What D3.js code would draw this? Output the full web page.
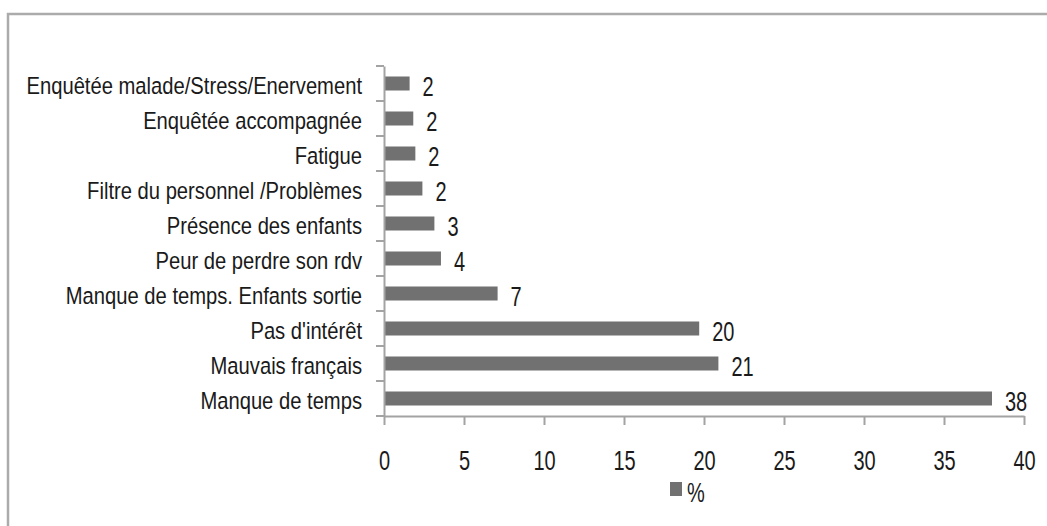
<!DOCTYPE html>
<html>
<head>
<meta charset="utf-8">
<script src="https://cdn.jsdelivr.net/npm/d3@7"></script>
<style>
  html, body { margin: 0; padding: 0; background: #fff; }
  svg { display: block; }
  text { font-family: "Liberation Sans", Arial, sans-serif; fill: #1a1a1a; }
</style>
</head>
<body>
<svg id="chart" width="1047" height="526"></svg>
<script>
// ---- data ----
const categories = [
  "Enquêtée malade/Stress/Enervement",
  "Enquêtée accompagnée",
  "Fatigue",
  "Filtre du personnel /Problèmes",
  "Présence des enfants ",
  "Peur de perdre son rdv",
  "Manque de temps. Enfants sortie",
  "Pas d'intérêt",
  "Mauvais français",
  "Manque de temps"
];
const values = [1.6, 1.83, 1.96, 2.4, 3.15, 3.56, 7.1, 19.7, 20.9, 38.0];
const xTicks = [0, 5, 10, 15, 20, 25, 30, 35, 40];
const seriesName = "%";

// ---- layout ----
const W = 1047, H = 526;
const plot = { left: 384, right: 1024, top: 66, bottom: 416 };
const SY_CAT = 1.22; // vertical stretch of category text
const SY_NUM = 1.38; // vertical stretch of numbers
const barColor = "#717171";
const axisColor = "#a3a3a3";

const svg = d3.select("#chart");

// outer frame (left + top border)
svg.append("path")
  .attr("d", `M8,${H} L8,14 L${W},14`)
  .attr("fill", "none")
  .attr("stroke", "#ababab")
  .attr("stroke-width", 2.5);

const x = d3.scaleLinear().domain([0, 40]).range([plot.left, plot.right]);
const y = d3.scaleBand().domain(categories).range([plot.top, plot.bottom]).paddingInner(0).paddingOuter(0);
const barH = y.bandwidth() * 0.4;

// bars
svg.append("g").selectAll("rect")
  .data(categories)
  .join("rect")
  .attr("x", x(0))
  .attr("y", (c) => y(c) + (y.bandwidth() - barH) / 2)
  .attr("width", (c, i) => x(values[i]) - x(0))
  .attr("height", barH)
  .attr("fill", barColor);

// x axis
const xAxis = svg.append("g")
  .attr("transform", `translate(0,${plot.bottom})`)
  .call(d3.axisBottom(x).tickValues(xTicks).tickSize(9).tickSizeOuter(0).tickFormat(d3.format("d")));
xAxis.select(".domain").attr("stroke", axisColor).attr("stroke-width", 2);
xAxis.selectAll(".tick line").attr("stroke", axisColor).attr("stroke-width", 2);
xAxis.selectAll(".tick text")
  .attr("y", 0).attr("dy", "0.36em")
  .attr("transform", `translate(0,44) scale(1,${SY_NUM})`)
  .style("font-size", "20px")
  .attr("fill", "#1a1a1a");

// y axis: line + ticks at band boundaries
const yAxis = svg.append("g").attr("transform", `translate(${plot.left},0)`)
  .call(d3.axisLeft(y).tickSize(0).tickFormat(""));
yAxis.select(".domain").attr("stroke", axisColor).attr("stroke-width", 2);
const bounds = categories.map(c => y(c)).concat([plot.bottom]);
yAxis.selectAll("line.bound")
  .data(bounds)
  .join("line")
  .attr("class", "bound")
  .attr("x1", -8).attr("x2", 0)
  .attr("y1", d => d).attr("y2", d => d)
  .attr("stroke", axisColor).attr("stroke-width", 2);

// category labels
svg.append("g").selectAll("text")
  .data(categories)
  .join("text")
  .attr("text-anchor", "end")
  .attr("dy", "0.36em")
  .attr("transform", c => `translate(362,${y(c) + y.bandwidth() / 2 + 2}) scale(1,${SY_CAT})`)
  .style("font-size", "20.2px")
  .text(c => c);

// value labels
const fmt = d3.format(".0f");
svg.append("g").selectAll("text")
  .data(categories)
  .join("text")
  .attr("text-anchor", "start")
  .attr("dy", "0.36em")
  .attr("transform", (c, i) => `translate(${x(values[i]) + 13},${y(c) + y.bandwidth() / 2 + 2.5}) scale(1,${SY_NUM})`)
  .style("font-size", "20px")
  .text((c, i) => fmt(values[i]));

// legend
const lg = svg.append("g");
lg.append("rect").attr("x", 670).attr("y", 482).attr("width", 12).attr("height", 14).attr("fill", barColor);
lg.append("text")
  .attr("dy", "0.36em")
  .attr("transform", `translate(687,492) scale(1,${SY_NUM})`)
  .style("font-size", "20px")
  .text(seriesName);
</script>
</body>
</html>
